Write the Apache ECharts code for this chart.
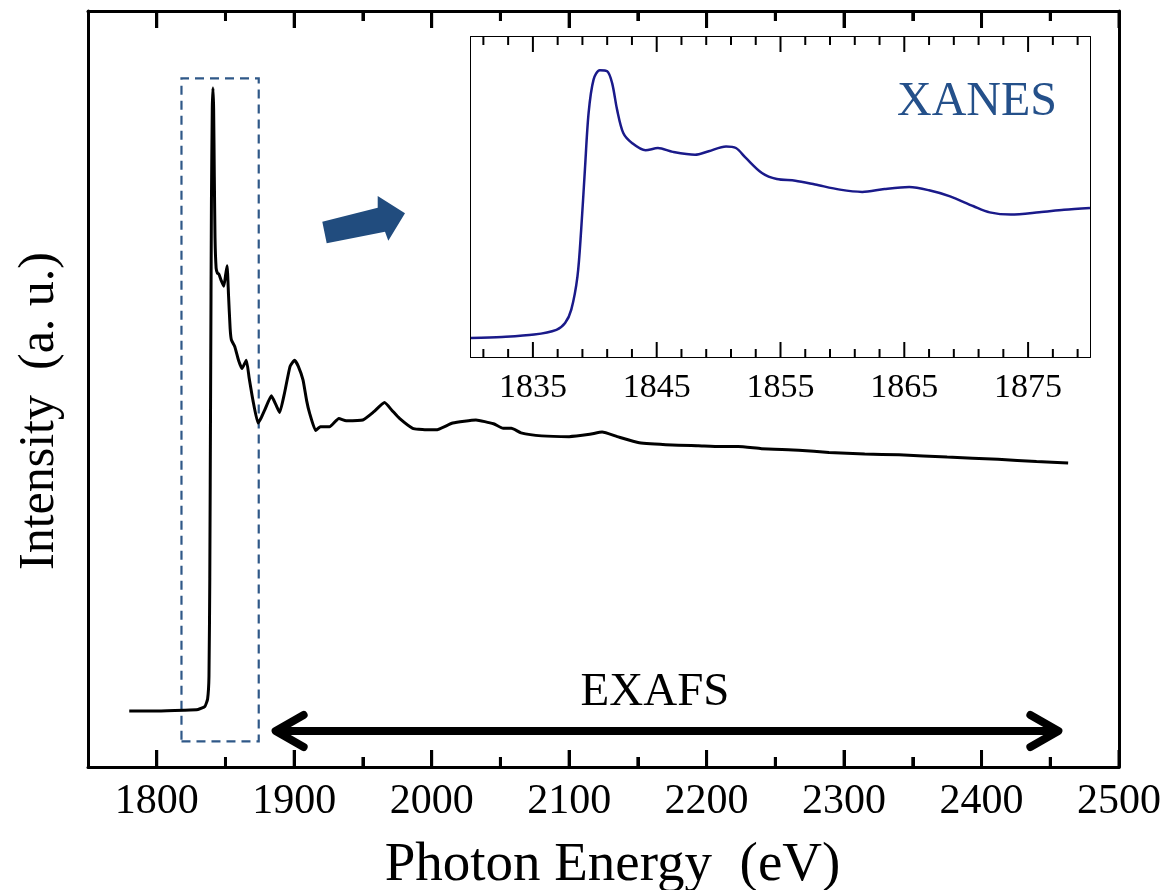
<!DOCTYPE html>
<html>
<head>
<meta charset="utf-8">
<script src="https://cdn.jsdelivr.net/npm/echarts@6/dist/echarts.min.js"></script>
<style>
  html, body { margin: 0; padding: 0; background: #ffffff; }
  #chart { width: 1165px; height: 890px; }
</style>
</head>
<body>
<div id="chart"></div>
<script>
// Full absorption spectrum (photon energy in eV, intensity in arbitrary units)
const energy = [
  1780, 1800, 1820, 1830, 1835, 1837, 1838, 1838.6, 1839.2, 1839.8,
  1840.4, 1840.9, 1841.4, 1841.9, 1842.4, 1843.2, 1844.2, 1845.2, 1846.8, 1848.8,
  1850.2, 1851.2, 1852.2, 1853.4, 1854.3, 1856.8, 1859.5, 1862, 1865.2, 1867.2,
  1870, 1873.7, 1876, 1878.5, 1883.4, 1886.5, 1889.4, 1893, 1897, 1900.3,
  1903, 1906.4, 1909, 1911.2, 1915.6, 1919, 1925.7, 1932.5, 1937.8, 1949.9,
  1958, 1965.7, 1971, 1976.6, 1986.2, 1995, 2003.2, 2015.3, 2032.2, 2045,
  2052, 2058, 2065, 2080, 2100, 2115, 2124, 2135, 2151, 2175,
  2194, 2210, 2223, 2240, 2267, 2289, 2315, 2340, 2375, 2412,
  2440, 2463
];
const intensity = [
  7.4, 7.4, 7.5, 7.6, 8.0, 9.0, 12, 25, 50, 75,
  87, 89.8, 87, 78, 70, 66, 65.3, 65.2, 64.4, 63.6,
  65.2, 66.3, 62.5, 58.0, 56.5, 55.6, 53.8, 52.7, 53.8, 51.5,
  48.5, 45.5, 46.2, 47.2, 49.1, 48.0, 46.9, 49.5, 53, 53.8,
  53.0, 51.2, 48.5, 46.8, 44.5, 45.0, 45.0, 46.1, 45.8, 45.9,
  47, 48.2, 47.2, 46.1, 44.8, 44.6, 44.6, 45.5, 45.9, 45.4,
  44.8, 44.8, 44.2, 43.8, 43.7, 44.0, 44.3, 43.7, 42.9, 42.6,
  42.5, 42.4, 42.4, 42.1, 41.9, 41.6, 41.4, 41.3, 41.0, 40.7,
  40.4, 40.2
];

// XANES region, enlarged
const xanesEnergy = [
  1830, 1832.5, 1835.1, 1836.9, 1837.6, 1838.1, 1838.6, 1838.9, 1839.2, 1839.5,
  1839.9, 1840.4, 1841.0, 1841.4, 1841.8, 1842.3, 1843.0, 1844.1, 1845.1, 1846.3,
  1848.1, 1849.2, 1850.6, 1851.4, 1852.2, 1853.5, 1854.7, 1856.2, 1857.8, 1859.8,
  1861.6, 1863.4, 1865.4, 1867.0, 1868.7, 1870.6, 1871.9, 1873.6, 1875.9, 1877.9,
  1880
];
const xanesIntensity = [
  5.9, 6.25, 7.0, 8.5, 10.6, 14.8, 25.2, 39.8, 58.5, 76.3,
  86.7, 89.6, 89.3, 85.6, 77.3, 70, 66.9, 64.6, 65.3, 64.1,
  63.2, 64.3, 65.8, 65.3, 62.2, 57.5, 55.6, 55.1, 53.9, 52.3,
  51.6, 52.5, 53.1, 52.1, 50.2, 47.1, 45.2, 44.5, 45.2, 46.0,
  46.6
];

// Tick positions
const mainTicks = [1800, 1900, 2000, 2100, 2200, 2300, 2400, 2500];
const mainMinorTicks = [1850, 1950, 2050, 2150, 2250, 2350, 2450];
const xanesTicks = [1835, 1845, 1855, 1865, 1875];
const xanesMinorTicks = [
  1831, 1833, 1837, 1839, 1841, 1843, 1847, 1849, 1851, 1853,
  1857, 1859, 1861, 1863, 1867, 1869, 1871, 1873, 1877, 1879
];

// Annotation anchors in data units
const edgeBox = { from: [1818, 3.4], to: [1874.2, 91.1] };
const exafsRange = { from: 1886.5, to: 2455.9, level: 4.76 };

const SERIF = '"Liberation Serif", "Times New Roman", serif';
const chart = echarts.init(document.getElementById('chart'), null, { renderer: 'canvas' });

function xAxisDef(grid, min, max, position, opts) {
  opts = opts || {};
  return Object.assign({
    type: 'value', gridIndex: grid, min: min, max: max, position: position,
    splitLine: { show: false },
    axisTick: opts.tick
      ? { show: true, inside: true, length: opts.tick.len, lineStyle: { color: '#000', width: opts.tick.width } }
      : { show: false },
    axisLine: { show: true, onZero: false, lineStyle: { color: '#000', width: opts.lineWidth || 3 } },
    axisLabel: opts.labels ? {
      show: true, customValues: opts.labels, color: '#000', fontFamily: SERIF,
      fontSize: opts.fontSize, margin: opts.margin, formatter: v => String(v)
    } : { show: false }
  }, opts.extra || {});
}

function yAxisDef(grid, position, width) {
  return {
    type: 'value', gridIndex: grid, min: 0, max: 100, position: position,
    splitLine: { show: false }, axisTick: { show: false }, axisLabel: { show: false },
    axisLine: { show: true, onZero: false, lineStyle: { color: '#000', width: width } }
  };
}

// Inward tick marks on both the bottom and top frame edges, placed through the axis scale
function tickSeries(xAxisIndex, yAxisIndex, values, len, width) {
  return {
    type: 'custom', xAxisIndex: xAxisIndex, yAxisIndex: yAxisIndex,
    silent: true, clip: false, z: 12,
    data: values.map(v => [v, 50]),
    renderItem: function (params, api) {
      const v = api.value(0);
      const b = api.coord([v, 0]);
      const t = api.coord([v, 100]);
      return {
        type: 'group',
        children: [
          { type: 'rect', shape: { x: b[0] - width / 2, y: b[1] - len, width: width, height: len }, style: { fill: '#000' } },
          { type: 'rect', shape: { x: t[0] - width / 2, y: t[1], width: width, height: len }, style: { fill: '#000' } }
        ]
      };
    }
  };
}

// Long ticks of the main frame as short segments in data units (value 0..100 spans 756 px)
const majorDepth = 17 * 100 / 756;
const majorTickSegments = [];
mainTicks.forEach(v => {
  majorTickSegments.push([{ coord: [v, 0] }, { coord: [v, majorDepth] }]);
  majorTickSegments.push([{ coord: [v, 100] }, { coord: [v, 100 - majorDepth] }]);
});

const option = {
  backgroundColor: '#ffffff',
  animation: false,
  grid: [
    { left: 88, top: 11, width: 1031, height: 756, outerBoundsMode: 'none', containLabel: false },
    { left: 471, top: 37, width: 619, height: 320, outerBoundsMode: 'none', containLabel: false,
      show: true, backgroundColor: '#ffffff', borderWidth: 0, z: 5 }
  ],
  xAxis: [
    xAxisDef(0, 1750, 2500, 'bottom', {
      labels: mainTicks, fontSize: 42, margin: 14,
      tick: { len: 10, width: 3 },
      extra: {
        interval: 50,
        name: 'Photon Energy  (eV)', nameLocation: 'middle', nameGap: 71,
        nameTextStyle: { color: '#000', fontFamily: SERIF, fontSize: 55, padding: [0, 0, 0, 18] }
      }
    }),
    xAxisDef(0, 1750, 2500, 'top', { tick: { len: 10, width: 3 }, extra: { interval: 50 } }),
    xAxisDef(1, 1830, 1880, 'bottom', { lineWidth: 2, labels: xanesTicks, fontSize: 34, margin: 14 }),
    xAxisDef(1, 1830, 1880, 'top', { lineWidth: 2 })
  ],
  yAxis: [
    yAxisDef(0, 'left', 3),
    yAxisDef(0, 'right', 3),
    yAxisDef(1, 'left', 2),
    yAxisDef(1, 'right', 2)
  ],
  series: [
    {
      name: 'spectrum', type: 'line', xAxisIndex: 0, yAxisIndex: 0,
      data: energy.map((e, i) => [e, intensity[i]]),
      showSymbol: false, smooth: 0.15,
      lineStyle: { color: '#000000', width: 3 },
      z: 3,
      markArea: {
        silent: true,
        itemStyle: { color: 'rgba(0,0,0,0)', borderColor: '#2f5888', borderWidth: 2.2, borderType: [9, 6] },
        data: [[{ coord: edgeBox.from }, { coord: edgeBox.to }]]
      },
      markLine: {
        silent: true, symbol: ['none', 'none'], animation: false,
        label: { show: false },
        lineStyle: { color: '#000000', width: 3, type: 'solid' },
        emphasis: { disabled: true },
        data: majorTickSegments
      }
    },
    {
      name: 'XANES', type: 'line', xAxisIndex: 2, yAxisIndex: 2,
      data: xanesEnergy.map((e, i) => [e, xanesIntensity[i]]),
      showSymbol: false, smooth: 0.3,
      lineStyle: { color: '#1a1a8a', width: 2.5 },
      z: 6
    },
    tickSeries(0, 0, mainTicks, 17, 3),
    tickSeries(0, 0, mainMinorTicks, 10, 3),
    tickSeries(2, 2, xanesTicks, 15, 2),
    tickSeries(2, 2, xanesMinorTicks, 8, 2)
  ]
};

chart.setOption(option);

// Annotations: EXAFS range arrow, XANES pointer, labels
const left = chart.convertToPixel({ gridIndex: 0 }, [exafsRange.from, exafsRange.level]);
const right = chart.convertToPixel({ gridIndex: 0 }, [exafsRange.to, exafsRange.level]);
const armX = 28, armY = 16;
const arrowStyle = () => ({ stroke: '#000', lineWidth: 8, fill: null, lineCap: 'round', lineJoin: 'round' });

chart.setOption({
  graphic: [
    { type: 'line', z: 20, shape: { x1: left[0] + 4, y1: left[1], x2: right[0] - 4, y2: right[1] }, style: arrowStyle() },
    { type: 'polyline', z: 20, shape: { points: [[left[0] + armX, left[1] - armY], [left[0], left[1]], [left[0] + armX, left[1] + armY]] }, style: arrowStyle() },
    { type: 'polyline', z: 20, shape: { points: [[right[0] - armX, right[1] - armY], [right[0], right[1]], [right[0] - armX, right[1] + armY]] }, style: arrowStyle() },
    {
      type: 'text', z: 20, x: (left[0] + right[0]) / 2 - 12, y: left[1] - 38,
      style: { text: 'EXAFS', font: '47px ' + SERIF, fill: '#000', align: 'center', verticalAlign: 'middle' }
    },
    {
      type: 'polygon', z: 20,
      shape: { points: [[326.7, 243.3], [322.3, 221.7], [377.7, 207.7], [377.7, 196], [405, 213.3], [388.3, 240.7], [385, 231.7]] },
      style: { fill: '#214c7e', stroke: null }
    },
    {
      type: 'text', z: 20, x: 977, y: 102,
      style: { text: 'XANES', font: '48px ' + SERIF, fill: '#24508a', align: 'center', verticalAlign: 'middle' }
    },
    {
      type: 'text', z: 20, x: 40, y: 411, rotation: Math.PI / 2,
      style: { text: 'Intensity  (a. u.)', font: '50px ' + SERIF, fill: '#000', align: 'center', verticalAlign: 'middle' }
    }
  ]
});
</script>
</body>
</html>
